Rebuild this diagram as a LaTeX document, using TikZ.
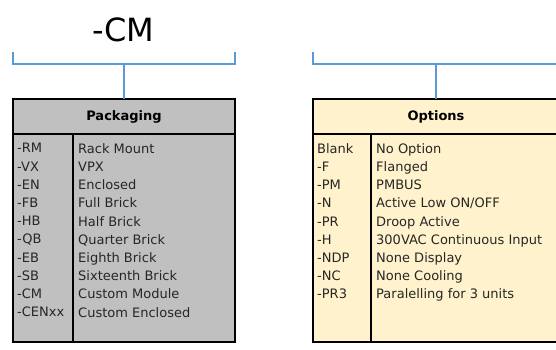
\documentclass[tikz,border=0pt]{standalone}
\usepackage{fontspec}
\setmainfont{DejaVu Sans}
\usetikzlibrary{positioning}
\definecolor{codebrace}{HTML}{5B9BD5}
\definecolor{pkggray}{HTML}{C0C0C0}
\definecolor{optcream}{HTML}{FFF2CC}
\definecolor{rowink}{HTML}{262626}

\begin{document}
\begin{tikzpicture}[x=1pt, y=-1pt,
    bracket/.style={draw=codebrace, line width=1.6pt},
    tabhead/.style={draw, line width=1.5pt, rectangle, inner sep=0pt, outer sep=0pt,
        minimum height=35pt, font=\fontsize{13}{15}\selectfont\bfseries},
    tabbody/.style={draw, line width=1.5pt, rectangle, inner sep=0pt, outer sep=0pt,
        minimum height=208pt},
    tabline/.style={line width=1.5pt},
    rowtext/.style={anchor=north west, align=left, inner sep=0pt, text=rowink,
        font=\fontsize{13}{18.2}\selectfont}]
    \clip (0,0) rectangle (556,349);

    % code title
    \node[font=\fontsize{32}{36}\selectfont] (code) at (123.5, 30) {-CM};

    % brackets
    \coordinate (pkgbrl) at (13, 52);
    \coordinate (pkgbrr) at (235, 52);
    \coordinate (pkgbrm) at (124, 64);
    \coordinate (optbrl) at (313, 52);
    \coordinate (optbrr) at (559, 52);
    \coordinate (optbrm) at (436, 64);
    \draw[bracket] (pkgbrl) |- (pkgbrm) -| (pkgbrr);
    \draw[bracket] (optbrl) |- (optbrm) -| (optbrr);

    % tables
    \node[tabhead, fill=pkggray, minimum width=222pt, anchor=north west] (pkghead) at (13, 99) {Packaging};
    \node[tabbody, fill=pkggray, minimum width=222pt, below=0 of pkghead] (pkgbody) {};
    \node[tabhead, fill=optcream, minimum width=246pt, anchor=north west] (opthead) at (313, 99) {Options};
    \node[tabbody, fill=optcream, minimum width=246pt, below=0 of opthead] (optbody) {};

    \draw[tabline] ([xshift=60]pkgbody.north west) -- ([xshift=60]pkgbody.south west);
    \draw[tabline] ([xshift=58]optbody.north west) -- ([xshift=58]optbody.south west);

    \draw[bracket] (pkgbrm) -- (pkghead.north);
    \draw[bracket] (optbrm) -- (opthead.north);

    % packaging rows
    \node[rowtext] (pkgcodes) at (17, 143.3) {-RM\\-VX\\-EN\\-FB\\-HB\\-QB\\-EB\\-SB\\-CM\\-CENxx};
    \node[rowtext] (pkgnames) at (78, 143.3) {Rack Mount\\VPX\\Enclosed\\Full Brick\\Half Brick\\Quarter Brick\\Eighth Brick\\Sixteenth Brick\\Custom Module\\Custom Enclosed};

    % option rows
    \node[rowtext] (optcodes) at (317, 143.3) {Blank\\-F\\-PM\\-N\\-PR\\-H\\-NDP\\-NC\\-PR3};
    \node[rowtext] (optnames) at (376, 143.3) {No Option\\Flanged\\PMBUS\\Active Low ON/OFF\\Droop Active\\300VAC Continuous Input\\None Display\\None Cooling\\Paralelling for 3 units};
\end{tikzpicture}
\end{document}
